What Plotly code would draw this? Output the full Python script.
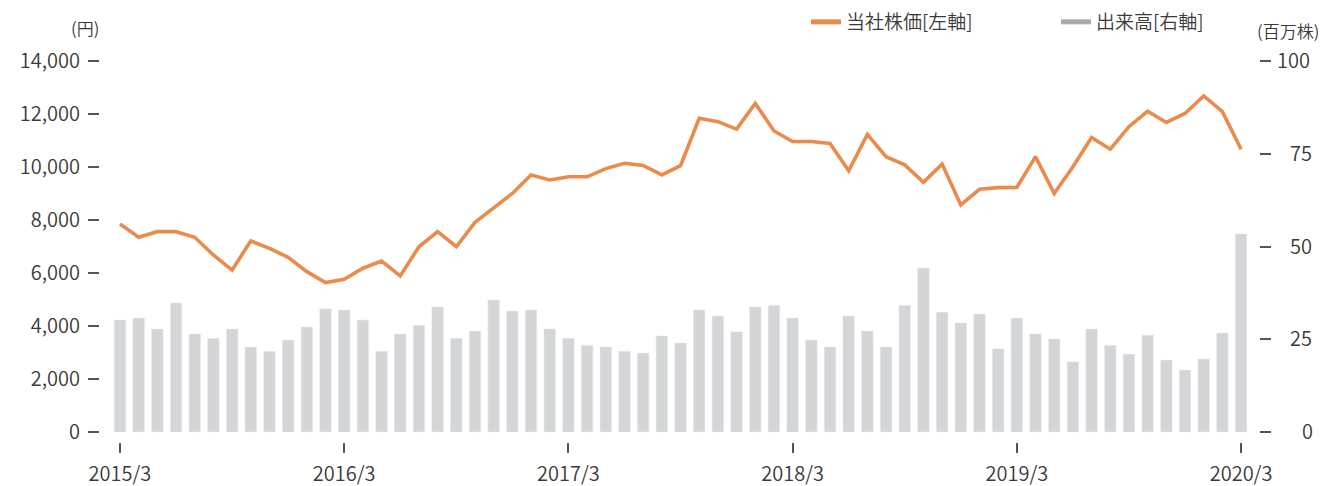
import plotly.graph_objects as go

# months 2015/3 .. 2020/3
months = [f"{2015 + (2 + i) // 12}/{(2 + i) % 12 + 1}" for i in range(61)]
tick_labels = ["2015/3", "2016/3", "2017/3", "2018/3", "2019/3", "2020/3"]

price = [7850, 7350, 7560, 7560, 7350, 6680, 6110, 7210, 6930, 6590,
         6050, 5640, 5760, 6180, 6450, 5890, 6990, 7560, 6990, 7910,
         8460, 9000, 9700, 9510, 9630, 9630, 9940, 10140, 10060, 9700,
         10050, 11840, 11710, 11430, 12400, 11360, 10960, 10960, 10890, 9860,
         11230, 10390, 10080, 9420, 10110, 8570, 9160, 9220, 9230, 10390,
         9000, 10010, 11110, 10670, 11520, 12110, 11680, 12020, 12680, 12090,
         10670]

volume = [30.2, 30.7, 27.8, 34.8, 26.4, 25.3, 27.8, 22.9, 21.8, 24.8,
          28.3, 33.2, 32.9, 30.2, 21.8, 26.4, 28.8, 33.7, 25.3, 27.2,
          35.6, 32.6, 32.9, 27.8, 25.3, 23.4, 22.9, 21.8, 21.3, 25.9,
          24.0, 32.9, 31.3, 27.0, 33.7, 34.2, 30.7, 24.8, 22.9, 31.3,
          27.2, 22.9, 34.2, 44.2, 32.3, 29.4, 31.8, 22.4, 30.7, 26.4,
          25.1, 18.9, 27.8, 23.4, 21.0, 26.1, 19.4, 16.7, 19.7, 26.7,
          53.4]

left_ticks = [0, 2000, 4000, 6000, 8000, 10000, 12000, 14000]
right_ticks_mid = [25, 50, 75]
right_ticks_low = [0]
right_ticks_top = [100]

ORANGE = "#EB8B4B"
BAR = "#D4D5D7"
LEG_GRAY = "#A9AAAE"
TXT = "#3A3A3A"
FONT = "Noto Sans CJK JP DemiLight, Noto Sans CJK JP Light, Noto Sans CJK JP"

L, R, T, B = 100, 66, 61, 44
W, H = 1325, 486
RRANGE = [-2.69, 100]

fig = go.Figure()

fig.add_trace(go.Bar(x=months, y=volume, yaxis="y2", marker_color=BAR,
                     showlegend=False, name="出来高[右軸]", hoverinfo="skip"))
fig.add_trace(go.Scatter(x=months, y=price, mode="lines",
                         line=dict(color=ORANGE, width=3.6),
                         showlegend=False, name="当社株価[左軸]"))
# legend entries
fig.add_trace(go.Scatter(x=[None], y=[None], mode="lines",
                         line=dict(color=ORANGE, width=5), name="当社株価[左軸]"))
fig.add_trace(go.Scatter(x=[None], y=[None], mode="lines",
                         line=dict(color=LEG_GRAY, width=5), name="出来高[右軸]"))
# empty carriers so the extra right-axis label layers are drawn
for ax in ("y3", "y4"):
    fig.add_trace(go.Scatter(x=[None], y=[None], mode="lines", yaxis=ax,
                             showlegend=False, hoverinfo="skip"))


def right_axis(vals, standoff):
    return dict(range=RRANGE, overlaying="y", side="right",
                showgrid=False, zeroline=False, showline=False,
                automargin=False, tickmode="array", tickvals=vals,
                ticks="outside", ticklen=11, tickwidth=1.5, tickcolor="#555",
                ticklabelstandoff=standoff, tickfont=dict(size=20))


fig.update_layout(
    width=W, height=H,
    margin=dict(l=L, r=R, t=T, b=B, autoexpand=False),
    paper_bgcolor="white", plot_bgcolor="white",
    font=dict(family=FONT, color=TXT, size=19),
    bargap=0.38,
    showlegend=True,
    legend=dict(orientation="h", x=806 / W, xanchor="left",
                y=1 - 3 / H, yanchor="top", xref="container", yref="container",
                font=dict(size=19, color=TXT),
                entrywidth=205, traceorder="normal",
                bgcolor="rgba(0,0,0,0)"),
    xaxis=dict(type="category", range=[-1.07, 60.96], showgrid=False,
               zeroline=False, showline=False, automargin=False,
               tickmode="array", tickvals=tick_labels, ticktext=tick_labels,
               ticks="outside", ticklen=10, tickwidth=1.5, tickcolor="#555",
               ticklabelstandoff=4, tickfont=dict(size=20)),
    yaxis=dict(range=[-377, 14000], showgrid=False, zeroline=False,
               showline=False, automargin=False, tickmode="array",
               tickvals=left_ticks,
               tickformat=",", ticks="outside", ticklen=11, tickwidth=1.5,
               tickcolor="#555", ticklabelstandoff=4, tickfont=dict(size=20)),
    yaxis2=right_axis(right_ticks_mid, 15),
    yaxis3=right_axis(right_ticks_low, 27),
    yaxis4=right_axis(right_ticks_top, 2),
)

pw = W - L - R
ph = H - T - B


def px_ann(text, px, py, size):
    fig.add_annotation(text=text, x=(px - L) / pw, y=(H - B - py) / ph,
                       xref="paper", yref="paper", showarrow=False,
                       xanchor="center", yanchor="middle",
                       font=dict(size=size, color=TXT))


px_ann("(円)", 85, 27, 17)
px_ann("(百万株)", 1288, 31, 17)

fig.write_html("out.html")
